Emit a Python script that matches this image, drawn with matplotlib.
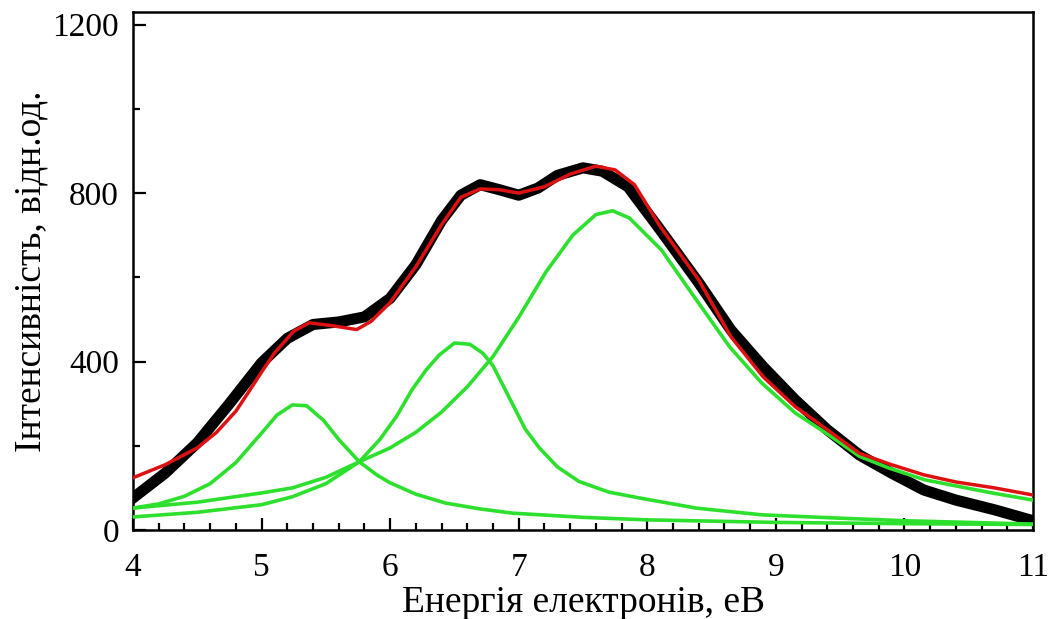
import matplotlib
matplotlib.use("Agg")
import matplotlib.pyplot as plt
from matplotlib.ticker import MultipleLocator

# Figure settings
plt.rcParams["font.family"] = ["Liberation Serif", "DejaVu Serif"]
plt.rcParams["font.size"] = 24

# Experimental spectrum (black)
exp_x = [4.0, 4.25, 4.5, 4.75, 5.0, 5.2, 5.4, 5.6, 5.8, 6.0, 6.2, 6.4, 6.55, 6.7, 6.85,
         7.0, 7.15, 7.3, 7.5, 7.65, 7.85, 8.1, 8.4, 8.65, 8.9, 9.15, 9.4, 9.65, 9.9,
         10.15, 10.4, 10.7, 11.0]
exp_y = [76, 135, 207, 300, 397, 455, 488, 494, 506, 550, 630, 735, 795, 820, 808,
         795, 812, 842, 860, 852, 815, 713, 587, 475, 388, 309, 238, 178, 135,
         95, 71, 48, 22]

# Fit (red)
fit_x = [4.0, 4.25, 4.5, 4.65, 4.8, 4.9, 5.0, 5.1, 5.25, 5.37, 5.55, 5.74, 5.85, 6.0,
         6.2, 6.4, 6.55, 6.7, 6.85, 7.0, 7.2, 7.4, 7.6, 7.75, 7.9, 8.1, 8.4, 8.65,
         8.9, 9.15, 9.4, 9.65, 9.9, 10.15, 10.4, 10.7, 11.0]
fit_y = [124, 155, 195, 232, 282, 328, 375, 420, 472, 492, 485, 476, 495, 540,
         625, 725, 790, 810, 808, 800, 815, 845, 864, 855, 820, 721, 594, 459,
         364, 293, 238, 182, 155, 131, 114, 100, 83]

# Components (green)
p1_x = [4.0, 4.2, 4.4, 4.6, 4.8, 5.0, 5.12, 5.24, 5.35, 5.48, 5.6, 5.76, 5.9, 6.0,
        6.2, 6.43, 6.7, 6.95, 7.5, 8.0, 9.0, 10.0, 11.0]
p1_y = [52, 62, 80, 110, 160, 230, 273, 297, 295, 261, 215, 162, 130, 112,
        85, 64, 50, 40, 30, 24, 18, 15, 13]

p2_x = [4.0, 4.5, 5.0, 5.24, 5.5, 5.76, 5.92, 6.05, 6.17, 6.28, 6.38, 6.5, 6.62, 6.72,
        6.8, 6.95, 7.05, 7.16, 7.3, 7.47, 7.7, 7.94, 8.38, 8.89, 9.5, 10.0, 11.0]
p2_y = [31, 42, 60, 79, 110, 162, 215, 270, 333, 380, 415, 444, 441, 420,
        390, 300, 240, 195, 150, 115, 90, 76, 52, 36, 28, 22, 14]

p3_x = [4.0, 4.5, 5.0, 5.24, 5.5, 5.76, 6.0, 6.2, 6.4, 6.6, 6.8, 7.0, 7.21, 7.42,
        7.6, 7.73, 7.86, 8.11, 8.38, 8.64, 8.89, 9.15, 9.41, 9.65, 9.88, 10.16,
        10.68, 11.0]
p3_y = [52, 66, 88, 100, 125, 162, 195, 232, 280, 340, 412, 505, 612, 700,
        749, 758, 741, 665, 547, 435, 349, 278, 226, 175, 147, 119,
        88, 71]

fig = plt.figure(figsize=(10.58, 6.19), dpi=100)
ax = fig.add_axes([0.1257, 0.1438, 0.8507, 0.8368])

green = "#2ee02e"
ax.plot(exp_x, exp_y, color="black", linewidth=8, zorder=2)
ax.plot(p1_x, p1_y, color=green, linewidth=2.6, zorder=3)
ax.plot(p2_x, p2_y, color=green, linewidth=2.6, zorder=3)
ax.plot(p3_x, p3_y, color=green, linewidth=2.6, zorder=3)
ax.plot(fit_x, fit_y, color="#dd1111", linewidth=2.5, zorder=4)

ax.set_xlim(4, 11)
ax.set_ylim(0, 1230)
ax.xaxis.set_major_locator(MultipleLocator(1))
ax.xaxis.set_minor_locator(MultipleLocator(0.2))
ax.yaxis.set_major_locator(MultipleLocator(400))
ax.yaxis.set_minor_locator(MultipleLocator(200))
ax.tick_params(which="both", direction="in", top=False, right=False, width=1.6)
ax.tick_params(axis="x", which="major", pad=16)
ax.tick_params(axis="y", which="major", pad=10)
ax.tick_params(which="major", length=9)
ax.tick_params(which="minor", length=5)
for s in ax.spines.values():
    s.set_linewidth(1.8)

ax.set_xlabel("Енергія електронів, еВ", fontsize=27, labelpad=2)
ax.set_ylabel("Інтенсивність, відн.од.", fontsize=27, labelpad=3)

fig.savefig("out.png", dpi=100)
